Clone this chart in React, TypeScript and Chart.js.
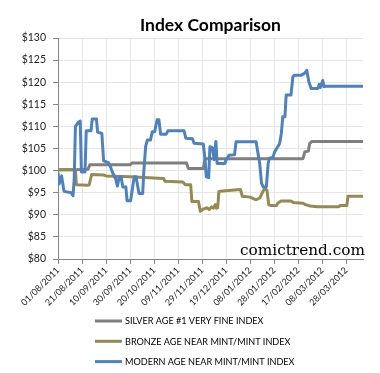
import { useEffect, useRef } from 'react';
import { Chart, registerables } from 'chart.js';

Chart.register(...registerables);

const TITLE = 'Index Comparison';
const WATERMARK = 'comictrend.com';
const START_DATE = Date.UTC(2011, 7, 1);
const X_MAX_DAYS = 254;
const X_STEP_DAYS = 20;
const Y_MIN = 80;
const Y_MAX = 130;
const Y_STEP = 5;

const seriesNames = [
  'SILVER AGE #1 VERY FINE INDEX',
  'BRONZE AGE NEAR MINT/MINT INDEX',
  'MODERN AGE NEAR MINT/MINT INDEX',
];
const seriesColors = ['#7f7f7f', '#948a54', '#4f81bd'];
// higher order drawn underneath: modern on top, silver at the bottom
const seriesOrder = [3, 2, 1];

// days since 01/08/2011
const silverDays = [0, 15, 25, 26.5, 60, 61.5, 107, 108.5, 121, 122.5, 204, 205.5, 208.5, 209.5, 211.5, 254];
const silverValues = [100.2, 100.2, 100.3, 101.3, 101.3, 101.7, 101.7, 100.5, 100.5, 102.7, 102.7, 104.2, 104.4, 106.1, 106.6, 106.6];

const bronzeDays = [0, 14.5, 15.3, 25, 26, 28, 38, 40, 60, 88, 89, 104, 106, 110.5, 111.5, 117, 118.5, 121, 124, 126, 128, 129.5, 131, 132, 133, 134, 137, 147, 152, 153.5, 160, 165, 168, 170.5, 172, 174, 175.5, 177, 182, 183, 185.5, 194, 196, 204, 206, 210, 216, 234, 235, 240.5, 241.5, 254];
const bronzeValues = [100.2, 100.2, 96.8, 96.7, 96.8, 99.1, 99, 98.8, 98.6, 98.2, 97.6, 97.4, 96.8, 96.8, 93, 93, 90.8, 91.3, 91.6, 91.2, 91.8, 91.5, 92.3, 91.5, 91.6, 95.3, 95.4, 95.6, 95.7, 94.2, 94, 93.4, 93.8, 95.2, 95.9, 95.6, 92.3, 92.1, 92.1, 92.6, 93.1, 93.1, 92.8, 92.6, 92.3, 92, 91.8, 91.8, 92.1, 92.1, 94.2, 94.2];

const modernDays = [0, 1, 3, 5, 11, 12.5, 13.5, 14.5, 17, 18.5, 19.5, 22.5, 23.5, 27.5, 28.5, 32, 33, 36.5, 38, 42, 43.5, 45.5, 48, 49.5, 51, 52.5, 54, 56.5, 57.5, 60.5, 62, 63.5, 65, 66.5, 67.5, 70.5, 71.5, 73, 74.4, 77, 78.5, 80.5, 82.5, 84, 85.5, 90, 91.5, 105, 106.5, 112, 113.3, 121, 122.5, 123.5, 125.5, 126.5, 128.5, 130, 131.5, 132.5, 139, 140, 142.5, 147, 148.3, 165, 166.5, 168, 169.5, 171, 173.5, 175, 176, 179, 180.5, 183, 184.5, 186, 187.2, 189, 190, 194, 195.6, 197, 202.5, 205.3, 207.2, 208.9, 210.8, 216.5, 217.5, 218.5, 220.5, 221.5, 223, 254];
const modernValues = [99.5, 97, 98.8, 95.3, 95, 94.3, 98, 110, 111, 111.2, 99.7, 99.7, 109, 109, 111.7, 111.7, 108.7, 108.4, 102.2, 101.8, 101, 99.5, 98.2, 96.5, 98.6, 98.6, 96.3, 96.3, 93.2, 93.2, 96, 98.6, 98.6, 96.3, 94.8, 94.8, 100, 105.5, 106.9, 106.9, 108.8, 108.8, 111.5, 111.5, 108.2, 108.2, 109, 109, 107.3, 107.2, 106.2, 106, 102.4, 98.6, 98.4, 105.4, 105.2, 102.5, 106.6, 101.6, 101.6, 102.4, 103.5, 103.6, 106.5, 106.5, 104, 101.6, 97.1, 96.3, 96.3, 101.6, 102.8, 103, 104.3, 105.4, 106.1, 108.4, 112.2, 112.2, 117.1, 117.1, 121.2, 121.6, 121.6, 122, 122.7, 120.1, 118.6, 118.6, 119.5, 118.8, 120.4, 119, 119.1, 119.1];

const seriesDays = [silverDays, bronzeDays, modernDays];
const seriesValues = [silverValues, bronzeValues, modernValues];

const pad2 = (n: number) => (n < 10 ? '0' : '') + n;
const dayLabel = (d: number) => {
  const dt = new Date(START_DATE + d * 86400000);
  return `${pad2(dt.getUTCDate())}/${pad2(dt.getUTCMonth() + 1)}/${dt.getUTCFullYear()}`;
};

const SANS = 'Lato, "Open Sans", sans-serif';

const overlayPlugin = {
  id: 'overlay',
  afterDraw(chart: any) {
    const { ctx, chartArea } = chart;
    ctx.save();
    ctx.fillStyle = '#000';
    ctx.font = `bold 17.5px ${SANS}`;
    ctx.textAlign = 'center';
    ctx.textBaseline = 'alphabetic';
    ctx.fillText(TITLE, (chartArea.left + chartArea.right) / 2, 31);

    ctx.font = '15.3px "DejaVu Serif", serif';
    ctx.textAlign = 'right';
    ctx.fillText(WATERMARK, chartArea.right + 2, chartArea.bottom - 4);

    chart.data.datasets.forEach((ds: any, i: number) => {
      const y = 321 + i * 20.3;
      ctx.strokeStyle = ds.borderColor;
      ctx.lineWidth = 3;
      ctx.beginPath();
      ctx.moveTo(95, y);
      ctx.lineTo(122, y);
      ctx.stroke();
      ctx.fillStyle = '#000';
      ctx.font = `9.1px ${SANS}`;
      ctx.textAlign = 'left';
      ctx.textBaseline = 'middle';
      ctx.fillText(ds.label, 125, y + 0.5);
    });
    ctx.restore();
  },
};

export default function App() {
  const ref = useRef<HTMLCanvasElement | null>(null);
  useEffect(() => {
    if (!ref.current) return;
    const chart = new Chart(ref.current, {
      type: 'line',
      data: {
        datasets: seriesNames.map((name, i) => ({
          label: name,
          data: seriesDays[i].map((d, j) => ({ x: d, y: seriesValues[i][j] })),
          borderColor: seriesColors[i],
          backgroundColor: seriesColors[i],
          order: seriesOrder[i],
          borderWidth: 3,
          pointRadius: 0,
          tension: 0,
          borderJoinStyle: 'round',
          borderCapStyle: 'round',
          fill: false,
        })),
      },
      options: {
        animation: false,
        responsive: false,
        events: [],
        layout: { padding: { top: 38, right: 17, left: 0, bottom: 0 } },
        plugins: {
          legend: { display: false },
          title: { display: false },
          tooltip: { enabled: false },
        },
        scales: {
          x: {
            type: 'linear',
            min: 0,
            max: X_MAX_DAYS,
            afterFit: (s: any) => {
              s.height = 114;
            },
            ticks: {
              stepSize: X_STEP_DAYS,
              includeBounds: false,
              autoSkip: false,
              maxRotation: 45,
              minRotation: 45,
              padding: 1,
              color: '#222',
              font: { family: SANS, size: 9 },
              callback: (v: any) => dayLabel(Number(v)),
            },
            grid: { color: '#e6e6e6', tickColor: '#868686', tickLength: 5, lineWidth: 1 },
            border: { color: '#868686', width: 1 },
          },
          y: {
            min: Y_MIN,
            max: Y_MAX,
            afterFit: (s: any) => {
              s.width = 58;
            },
            ticks: {
              stepSize: Y_STEP,
              padding: 7,
              color: '#222',
              font: { family: SANS, size: 10.5 },
              callback: (v: any) => '$' + v,
            },
            grid: { color: '#e6e6e6', tickColor: '#868686', tickLength: 5, lineWidth: 1 },
            border: { color: '#868686', width: 1 },
          },
        },
      } as any,
      plugins: [overlayPlugin],
    });
    return () => chart.destroy();
  }, []);
  return (
    <div style={{ position: 'absolute', left: 0, top: 0, width: 380, height: 373, background: '#fff' }}>
      <canvas ref={ref} width={380} height={373} style={{ display: 'block' }} />
    </div>
  );
}
